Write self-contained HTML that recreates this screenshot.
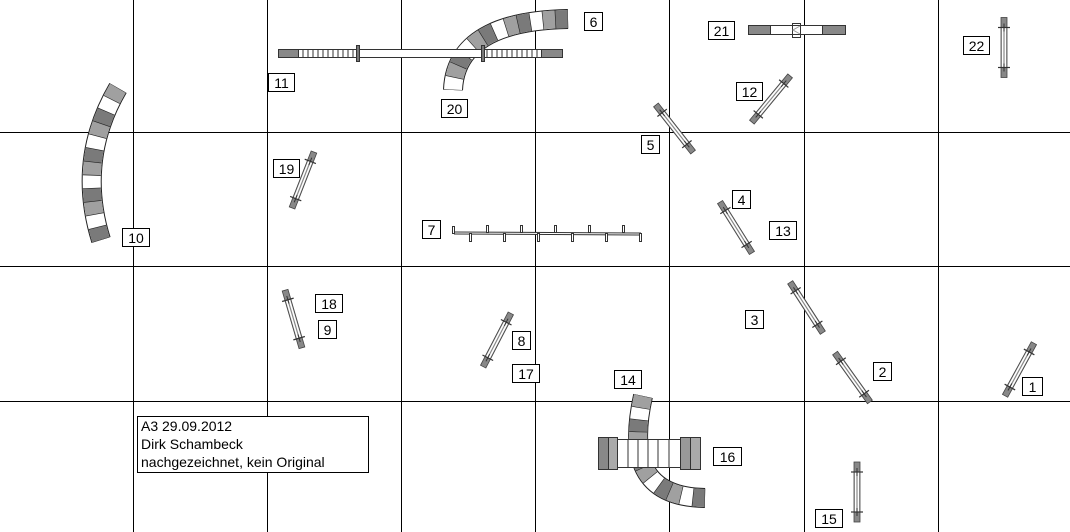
<!DOCTYPE html>
<html><head><meta charset="utf-8"><style>
html,body{margin:0;padding:0;background:#fff}
svg{display:block}
text{font-family:"Liberation Sans",sans-serif;font-size:14px;fill:#000}
</style></head><body>
<svg width="1070" height="532" viewBox="0 0 1070 532" xmlns="http://www.w3.org/2000/svg">
<defs>
<g id="j">
<rect x="-30" y="-3" width="60" height="6" fill="#888" stroke="#444" stroke-width="0.8"/>
<rect x="-20" y="-2.2" width="40" height="4.4" fill="#fff"/>
<line x1="-20" y1="0" x2="20" y2="0" stroke="#888" stroke-width="1.2"/>
<line x1="-20" y1="-6" x2="-20" y2="6" stroke="#333" stroke-width="1.2"/>
<line x1="20" y1="-6" x2="20" y2="6" stroke="#333" stroke-width="1.2"/>
<line x1="-24" y1="0" x2="-16" y2="0" stroke="#333" stroke-width="1"/>
<line x1="16" y1="0" x2="24" y2="0" stroke="#333" stroke-width="1"/>
</g>
</defs>
<!-- grid -->
<g stroke="#000" stroke-width="1">
<line x1="133.5" y1="0" x2="133.5" y2="532"/><line x1="267.5" y1="0" x2="267.5" y2="532"/>
<line x1="401.5" y1="0" x2="401.5" y2="532"/><line x1="535.5" y1="0" x2="535.5" y2="532"/>
<line x1="669.5" y1="0" x2="669.5" y2="532"/><line x1="804.5" y1="0" x2="804.5" y2="532"/>
<line x1="938.5" y1="0" x2="938.5" y2="532"/>
<line x1="0" y1="132.5" x2="1070" y2="132.5"/><line x1="0" y1="266.5" x2="1070" y2="266.5"/>
<line x1="0" y1="401.5" x2="1070" y2="401.5"/>
</g>
<!-- tunnel 10 -->
<g fill="none">
<path d="M118,88 Q76,160 101,240" stroke="#222" stroke-width="20"/>
<path d="M118,88 Q76,160 101,240" stroke="#fff" stroke-width="18"/>
<path d="M118,88 Q76,160 101,240" pathLength="12" stroke="#a0a0a0" stroke-width="18" stroke-dasharray="1 2"/>
<path d="M118,88 Q76,160 101,240" pathLength="12" stroke="#7a7a7a" stroke-width="18" stroke-dasharray="1 2" stroke-dashoffset="-2"/>
<path d="M118,88 Q76,160 101,240" pathLength="12" stroke="#222" stroke-width="18" stroke-dasharray="0.05 0.95" stroke-dashoffset="0.025"/>
</g>
<!-- tunnel 6/20 -->
<g fill="none">
<path d="M568,19 C510,20 455,35 453,90" stroke="#222" stroke-width="20"/>
<path d="M568,19 C510,20 455,35 453,90" stroke="#fff" stroke-width="18"/>
<path d="M568,19 C510,20 455,35 453,90" pathLength="12" stroke="#7a7a7a" stroke-width="18" stroke-dasharray="1 2"/>
<path d="M568,19 C510,20 455,35 453,90" pathLength="12" stroke="#a0a0a0" stroke-width="18" stroke-dasharray="1 2" stroke-dashoffset="-1"/>
<path d="M568,19 C510,20 455,35 453,90" pathLength="12" stroke="#222" stroke-width="18" stroke-dasharray="0.05 0.95" stroke-dashoffset="0.025"/>
</g>
<!-- dogwalk 11 -->
<g stroke="#333" stroke-width="1">
<rect x="278.5" y="49.5" width="284" height="8" fill="#fff"/>
<rect x="278.5" y="49.5" width="20" height="8" fill="#888"/>
<rect x="541.5" y="49.5" width="21" height="8" fill="#888"/>
<path d="M303,50v7M308,50v7M313,50v7M318,50v7M323,50v7M328,50v7M333,50v7M338,50v7M343,50v7M348,50v7M353,50v7M487,50v7M492,50v7M497,50v7M502,50v7M507,50v7M512,50v7M517,50v7M522,50v7M527,50v7M532,50v7M537,50v7"/>
<rect x="356.5" y="45.5" width="3" height="16" fill="#777"/>
<rect x="481.5" y="45.5" width="3" height="16" fill="#777"/>
</g>
<!-- seesaw 21 -->
<g stroke="#333" stroke-width="1">
<rect x="748.5" y="25.5" width="97" height="9" fill="#fff"/>
<rect x="748.5" y="25.5" width="22" height="9" fill="#888"/>
<rect x="822.5" y="25.5" width="23" height="9" fill="#888"/>
<rect x="792.5" y="23.5" width="8" height="14" fill="none"/>
<path d="M800,26 L793,30 L800,34" fill="none" stroke="#999"/>
</g>
<!-- weave 7 -->
<g stroke="#333" stroke-width="1">
<path d="M454,233 L641,234" stroke-width="3"/>
<path d="M454,233 L641,234" stroke="#fff" stroke-width="1"/>
<g fill="#fff">
<rect x="452.5" y="226.5" width="2" height="7"/><rect x="469.5" y="233.5" width="2" height="8"/>
<rect x="486.5" y="225.5" width="2" height="7"/><rect x="503.5" y="233.5" width="2" height="8"/>
<rect x="520.5" y="225.5" width="2" height="7"/><rect x="537.5" y="233.5" width="2" height="8"/>
<rect x="554.5" y="225.5" width="2" height="7"/><rect x="571.5" y="233.5" width="2" height="8"/>
<rect x="588.5" y="225.5" width="2" height="7"/><rect x="605.5" y="233.5" width="2" height="8"/>
<rect x="622.5" y="225.5" width="2" height="7"/><rect x="639.5" y="233.5" width="2" height="8"/>
</g>
</g>
<!-- tunnel 14 -->
<g fill="none">
<path d="M643,396 C630,455 640,497 705,498" stroke="#222" stroke-width="20"/>
<path d="M643,396 C630,455 640,497 705,498" stroke="#fff" stroke-width="18"/>
<path d="M643,396 C630,455 640,497 705,498" pathLength="12" stroke="#a0a0a0" stroke-width="18" stroke-dasharray="1 2"/>
<path d="M643,396 C630,455 640,497 705,498" pathLength="12" stroke="#7a7a7a" stroke-width="18" stroke-dasharray="1 2" stroke-dashoffset="-2"/>
<path d="M643,396 C630,455 640,497 705,498" pathLength="12" stroke="#222" stroke-width="18" stroke-dasharray="0.05 0.95" stroke-dashoffset="0.025"/>
</g>
<!-- tunnel 16 -->
<g stroke="#333" stroke-width="1">
<rect x="608.5" y="439.5" width="82" height="28" fill="#fff"/>
<rect x="598.5" y="437.5" width="10" height="32" fill="#888"/>
<rect x="608.5" y="437.5" width="9" height="32" fill="#aaa"/>
<rect x="680.5" y="437.5" width="10" height="32" fill="#999"/>
<rect x="690.5" y="437.5" width="10" height="32" fill="#aaa"/>
<path d="M628,439v29M638,439v29M648,439v29M658,439v29M669,439v29"/>
</g>
<!-- jumps -->
<use href="#j" transform="translate(303,180) rotate(111.4)"/>
<use href="#j" transform="translate(771,99) rotate(129.6)"/>
<use href="#j" transform="translate(674.5,128.5) rotate(51.8)"/>
<use href="#j" transform="translate(1004,47.5) rotate(90)"/>
<use href="#j" transform="translate(736,227.5) rotate(57.9)"/>
<use href="#j" transform="translate(293.5,319) rotate(73.7)"/>
<use href="#j" transform="translate(497,340) rotate(117.4)"/>
<use href="#j" transform="translate(806.5,307.5) rotate(57.1)"/>
<use href="#j" transform="translate(852.5,377.5) rotate(54.5)"/>
<use href="#j" transform="translate(1019.5,369.5) rotate(118.7)"/>
<use href="#j" transform="translate(857,492) rotate(90)"/>
<!-- labels -->
<g fill="#fff" stroke="#000" stroke-width="1">
<rect x="584.5" y="12.5" width="18" height="18"/>
<rect x="268.5" y="73.5" width="26" height="18"/>
<rect x="441.5" y="99.5" width="26" height="18"/>
<rect x="708.5" y="21.5" width="26" height="18"/>
<rect x="963.5" y="36.5" width="26" height="18"/>
<rect x="736.5" y="82.5" width="26" height="18"/>
<rect x="641.5" y="135.5" width="18" height="18"/>
<rect x="273.5" y="159.5" width="26" height="18"/>
<rect x="122.5" y="228.5" width="27" height="18"/>
<rect x="422.5" y="220.5" width="18" height="18"/>
<rect x="732.5" y="190.5" width="18" height="18"/>
<rect x="769.5" y="221.5" width="27" height="18"/>
<rect x="315.5" y="294.5" width="27" height="18"/>
<rect x="318.5" y="320.5" width="18" height="18"/>
<rect x="512.5" y="331.5" width="18" height="18"/>
<rect x="512.5" y="364.5" width="27" height="18"/>
<rect x="745.5" y="310.5" width="18" height="18"/>
<rect x="614.5" y="370.5" width="27" height="18"/>
<rect x="873.5" y="362.5" width="18" height="18"/>
<rect x="1022.5" y="377.5" width="20" height="18"/>
<rect x="713.5" y="447.5" width="28" height="18"/>
<rect x="815.5" y="509.5" width="27" height="18"/>
<rect x="137.5" y="416.5" width="231" height="56"/>
</g>
<g text-anchor="middle">
<text x="593.5" y="27">6</text><text x="281.5" y="88">11</text><text x="454.5" y="114">20</text>
<text x="721.5" y="36">21</text><text x="976.5" y="51">22</text><text x="749.5" y="97">12</text>
<text x="650.5" y="150">5</text><text x="286.5" y="174">19</text><text x="136" y="243">10</text>
<text x="431.5" y="235">7</text><text x="741.5" y="205">4</text><text x="783" y="236">13</text>
<text x="329" y="309">18</text><text x="327.5" y="335">9</text><text x="521.5" y="346">8</text>
<text x="526" y="379">17</text><text x="754.5" y="325">3</text><text x="628" y="385">14</text>
<text x="882.5" y="377">2</text><text x="1032.5" y="392">1</text><text x="727.5" y="462">16</text>
<text x="829" y="524">15</text>
</g>
<text x="141" y="431">A3 29.09.2012</text>
<text x="141" y="449">Dirk Schambeck</text>
<text x="141" y="467">nachgezeichnet, kein Original</text>
</svg>
</body></html>
